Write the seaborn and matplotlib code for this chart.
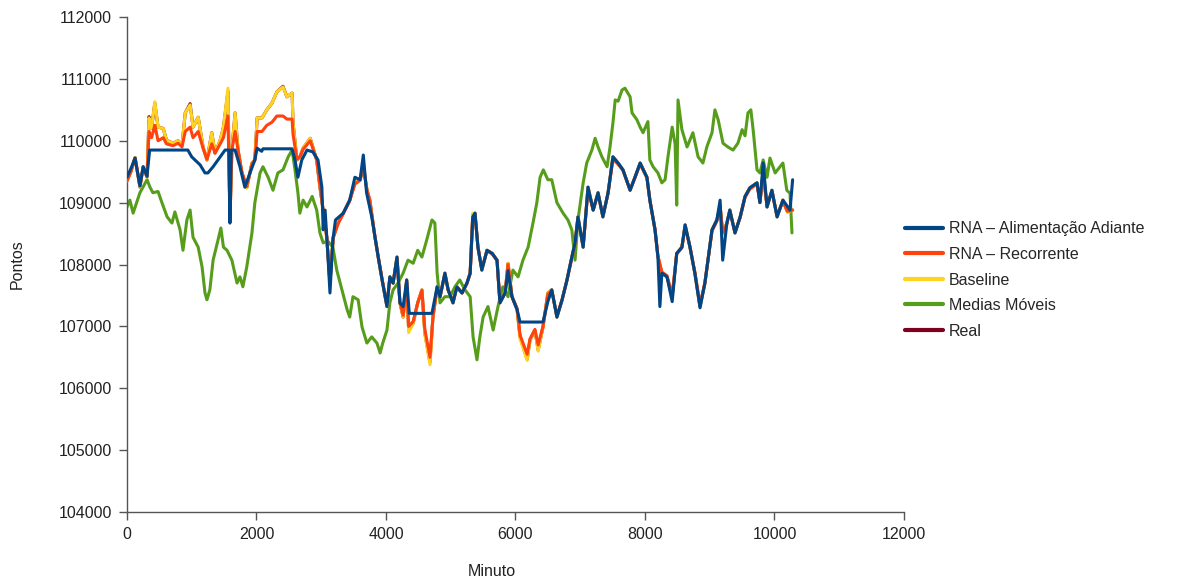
import matplotlib
matplotlib.use("Agg")
from matplotlib import pyplot as plt
import seaborn as sns
import pandas as pd

# minutos comuns para Real / Baseline / Recorrente
minutos = [0, 60, 125, 200, 250, 310, 340, 380, 430, 480, 560, 610, 710, 790, 850,
           900, 975, 1020, 1100, 1175, 1235, 1310, 1360, 1440, 1490, 1560, 1590, 1620,
           1670, 1715, 1775, 1850, 1930, 1975, 2010, 2085, 2160, 2240, 2315, 2410, 2470,
           2550, 2565, 2625, 2670, 2720, 2830, 2870, 2930, 2980, 3030, 3085, 3135, 3185,
           3260, 3340, 3440, 3520, 3600, 3650, 3705, 3750, 3830, 3880, 3940, 4015, 4060,
           4110, 4170, 4215, 4265, 4320, 4350, 4420, 4490, 4555, 4600, 4680, 4725, 4790,
           4835, 4910, 4960, 5035, 5095, 5175, 5250, 5300, 5340, 5375, 5420, 5480, 5560,
           5640, 5715, 5760, 5840, 5885, 5945, 6025, 6070, 6180, 6225, 6300, 6350, 6425,
           6500, 6560, 6640, 6720, 6795, 6870, 6920, 6965, 7045, 7120, 7200, 7275, 7350,
           7430, 7505, 7585, 7660, 7770, 7845, 7925, 8030, 8075, 8155, 8200, 8260, 8340,
           8420, 8490, 8570, 8620, 8695, 8770, 8850, 8925, 9035, 9110, 9160, 9200, 9265,
           9310, 9390, 9470, 9545, 9620, 9730, 9775, 9825, 9885, 9960, 10040, 10130,
           10200, 10280]

real = [109350, 109500, 109730, 109250, 109580, 109410, 110390, 110200, 110610, 110220,
        110200, 110010, 109960, 110000, 109930, 110450, 110600, 110220, 110380, 109900,
        109690, 110130, 109800, 110010, 110220, 110800, 108700, 109850, 110450, 109850,
        109480, 109240, 109640, 109690, 110370, 110370, 110500, 110610, 110790, 110880,
        110710, 110770, 110290, 109690, 109740, 109880, 110040, 109900, 109690, 109250,
        108880, 108440, 107700, 108440, 108670, 108830, 109040, 109320, 109370, 109600,
        109210, 109040, 108440, 108120, 107750, 107320, 107800, 107700, 108120, 107380,
        107150, 107750, 106940, 107050, 107380, 107590, 106890, 106420, 107150, 107640,
        107480, 107860, 107590, 107380, 107640, 107540, 107700, 107860, 108800, 108830,
        108280, 107910, 108230, 108180, 108070, 107380, 107540, 108020, 107480, 107270,
        106830, 106470, 106780, 106940, 106620, 106990, 107540, 107590, 107150, 107430,
        107750, 108120, 108350, 108770, 108280, 109250, 108880, 109160, 108770, 109160,
        109740, 109640, 109530, 109200, 109410, 109640, 109410, 109040, 108560, 108120,
        107860, 107800, 107480, 108180, 108280, 108640, 108280, 107860, 107320, 107700,
        108560, 108720, 108950, 108500, 108670, 108880, 108510, 108770, 109100, 109240,
        109320, 109000, 109500, 108930, 109200, 108770, 109040, 108850, 108880]

baseline = [109350, 109500, 109730, 109250, 109580, 109410, 110370, 110200, 110630, 110220,
            110200, 110010, 109960, 110000, 109930, 110450, 110580, 110220, 110380, 109900,
            109690, 110130, 109800, 110010, 110220, 110850, 108670, 109850, 110450, 109850,
            109480, 109240, 109640, 109690, 110370, 110370, 110500, 110610, 110790, 110870,
            110710, 110770, 110290, 109690, 109740, 109880, 110040, 109900, 109690, 109250,
            108880, 108440, 107700, 108440, 108670, 108830, 109040, 109320, 109370, 109600,
            109210, 109040, 108440, 108120, 107750, 107320, 107800, 107700, 108120, 107380,
            107150, 107750, 106900, 107050, 107380, 107590, 106870, 106380, 107150, 107640,
            107480, 107860, 107590, 107380, 107640, 107540, 107700, 107860, 108830, 108830,
            108280, 107910, 108230, 108180, 108070, 107380, 107540, 108020, 107480, 107270,
            106800, 106450, 106780, 106940, 106600, 106990, 107540, 107590, 107150, 107430,
            107750, 108120, 108350, 108770, 108280, 109250, 108880, 109160, 108770, 109160,
            109740, 109640, 109530, 109200, 109410, 109640, 109410, 109040, 108560, 108120,
            107860, 107800, 107480, 108180, 108280, 108640, 108280, 107860, 107320, 107700,
            108560, 108720, 108950, 108500, 108670, 108880, 108510, 108770, 109100, 109240,
            109320, 109000, 109500, 108930, 109200, 108770, 109040, 108850, 108880]

recorrente = [109350, 109500, 109720, 109270, 109570, 109420, 110150, 110050, 110250, 110000,
              110050, 109950, 109920, 109960, 109900, 110150, 110220, 110050, 110150, 109880,
              109700, 109950, 109800, 109950, 110050, 110400, 108720, 109850, 110150, 109850,
              109490, 109260, 109620, 109690, 110150, 110150, 110250, 110300, 110400, 110400,
              110350, 110350, 110100, 109700, 109740, 109860, 110000, 109880, 109690, 109270,
              108880, 108450, 107720, 108430, 108660, 108820, 109030, 109300, 109360, 109560,
              109210, 109040, 108450, 108130, 107770, 107350, 107780, 107700, 108100, 107400,
              107180, 107720, 107000, 107080, 107380, 107580, 106950, 106500, 107150, 107620,
              107480, 107840, 107590, 107400, 107630, 107540, 107690, 107850, 108750, 108800,
              108290, 107930, 108220, 108170, 108060, 107400, 107540, 108000, 107490, 107290,
              106860, 106550, 106800, 106950, 106700, 107000, 107520, 107580, 107170, 107430,
              107740, 108100, 108340, 108740, 108300, 109200, 108880, 109140, 108790, 109150,
              109700, 109620, 109520, 109210, 109400, 109620, 109400, 109050, 108570, 108140,
              107880, 107820, 107500, 108170, 108270, 108610, 108280, 107880, 107360, 107700,
              108540, 108700, 108930, 108520, 108660, 108860, 108520, 108760, 109080, 109220,
              109300, 109010, 109460, 108950, 109180, 108790, 109020, 108860, 108880]

minutos_ff = [0, 60, 125, 200, 250, 310, 350, 940, 1000, 1050, 1130, 1205, 1250, 1330,
              1440, 1515, 1575, 1590, 1610, 1670, 1745, 1820, 1900, 1975, 2010, 2080,
              2100, 2550, 2595, 2640, 2700, 2780, 2870, 2950, 3010, 3030, 3060, 3100, 3135,
              3180, 3220, 3340, 3440, 3520, 3600, 3650, 3700, 3780, 3830, 3880, 3940, 4015,
              4060, 4110, 4170, 4215, 4265, 4320, 4360, 4710, 4790, 4835, 4910, 4960, 5035,
              5095, 5175, 5250, 5300, 5340, 5375, 5420, 5480, 5560, 5640, 5715, 5760, 5840,
              5885, 5945, 6025, 6070, 6425, 6500, 6560, 6640, 6720, 6795, 6870, 6920, 6965,
              7045, 7120, 7200, 7275, 7350, 7430, 7505, 7585, 7660, 7770, 7845, 7925, 8030,
              8075, 8155, 8200, 8230, 8260, 8340, 8420, 8490, 8570, 8620, 8695, 8770, 8850,
              8925, 9035, 9110, 9160, 9200, 9265, 9310, 9390, 9470, 9545, 9620, 9730, 9775,
              9825, 9885, 9960, 10040, 10130, 10240, 10280]

alimentacao = [109410, 109550, 109720, 109270, 109580, 109430, 109850, 109850, 109740, 109690,
               109610, 109480, 109480, 109580, 109740, 109850, 109850, 108670, 109850, 109850,
               109580, 109250, 109480, 109690, 109880, 109830, 109870, 109870, 109690, 109410,
               109690, 109850, 109820, 109690, 109250, 108560, 108880, 108200, 107540, 108400,
               108720, 108830, 109040, 109410, 109370, 109770, 109160, 108770, 108440, 108120,
               107750, 107320, 107800, 107700, 108120, 107380, 107320, 107750, 107210, 107210,
               107640, 107480, 107860, 107590, 107380, 107640, 107540, 107700, 107860, 108770,
               108830, 108280, 107910, 108230, 108180, 108070, 107380, 107540, 107900, 107480,
               107270, 107070, 107070, 107400, 107590, 107150, 107430, 107750, 108120, 108350,
               108770, 108280, 109250, 108880, 109160, 108770, 109160, 109740, 109640, 109530,
               109200, 109410, 109640, 109410, 109040, 108560, 108120, 107320, 107860, 107800,
               107400, 108180, 108280, 108640, 108280, 107860, 107300, 107700, 108560, 108720,
               109040, 108070, 108670, 108880, 108510, 108770, 109100, 109240, 109320, 109000,
               109640, 108930, 109200, 108770, 109040, 108880, 109370]

minutos_mm = [0, 45, 95, 200, 310, 355, 400, 480, 540, 620, 695, 740, 820, 865, 925, 975,
              1020, 1100, 1160, 1205, 1235, 1280, 1330, 1405, 1450, 1490, 1545, 1620, 1700,
              1745, 1790, 1850, 1930, 1975, 2055, 2100, 2180, 2255, 2330, 2410, 2490, 2550,
              2595, 2640, 2670, 2720, 2780, 2860, 2930, 2980, 3030, 3100, 3180, 3240, 3320,
              3400, 3440, 3490, 3570, 3630, 3705, 3780, 3860, 3910, 3950, 4015, 4060, 4110,
              4185, 4265, 4340, 4420, 4490, 4555, 4630, 4710, 4755, 4790, 4835, 4910, 4990,
              5065, 5140, 5220, 5300, 5345, 5405, 5450, 5500, 5575, 5655, 5730, 5805, 5885,
              5960, 6040, 6115, 6195, 6270, 6330, 6380, 6430, 6500, 6560, 6640, 6735, 6810,
              6870, 6920, 6965, 7045, 7100, 7180, 7230, 7275, 7335, 7415, 7460, 7505, 7540,
              7585, 7645, 7690, 7770, 7800, 7875, 7925, 7970, 8045, 8075, 8125, 8200, 8260,
              8310, 8355, 8420, 8465, 8490, 8510, 8570, 8650, 8740, 8820, 8895, 8955, 9035,
              9080, 9130, 9205, 9280, 9360, 9435, 9500, 9545, 9590, 9635, 9670, 9730, 9775,
              9825, 9885, 9930, 10010, 10085, 10130, 10190, 10240, 10270]

medias_moveis = [108930, 109040, 108830, 109160, 109370, 109250, 109160, 109180, 109000,
                 108770, 108670, 108850, 108560, 108230, 108720, 108880, 108440, 108280,
                 107960, 107540, 107430, 107590, 108070, 108390, 108590, 108280, 108230,
                 108070, 107700, 107800, 107640, 107960, 108510, 109000, 109480, 109580,
                 109410, 109200, 109480, 109530, 109740, 109850, 109530, 109160, 108830,
                 109040, 108930, 109100, 108880, 108510, 108350, 108380, 108280, 107910,
                 107590, 107270, 107150, 107480, 107430, 106990, 106730, 106830, 106730,
                 106570, 106730, 106940, 107380, 107590, 107700, 107860, 108070, 108020,
                 108230, 108120, 108400, 108720, 108670, 107860, 107380, 107480, 107480,
                 107640, 107750, 107590, 107480, 106830, 106460, 106830, 107150, 107320,
                 106940, 107320, 107640, 107480, 107910, 107800, 108070, 108280, 108670,
                 109000, 109410, 109530, 109370, 109370, 109000, 108830, 108720, 108560,
                 108070, 108720, 109320, 109640, 109850, 110040, 109900, 109740, 109580,
                 109900, 110290, 110660, 110640, 110820, 110850, 110710, 110450, 110340,
                 110220, 110130, 110310, 109690, 109580, 109480, 109320, 109370, 109740,
                 110220, 109950, 108960, 110660, 110180, 109900, 110130, 109740, 109640,
                 109900, 110130, 110500, 110340, 109960, 109900, 109850, 109960, 110180,
                 110080, 110450, 110500, 110180, 109530, 109480, 109690, 109410, 109720,
                 109480, 109580, 109640, 109200, 109150, 108510]

nomes = ["RNA – Alimentação Adiante", "RNA – Recorrente", "Baseline", "Medias Móveis", "Real"]
cores = ["#004586", "#ff420e", "#ffd320", "#579d1c", "#7e0021"]

sns.set_style("white")
plt.rcParams['font.family'] = ['Liberation Sans', 'DejaVu Sans']

fig = plt.figure(figsize=(11.8, 5.81), dpi=100)
ax = fig.add_axes([0.1076, 0.1188, 0.6585, 0.8519])

# desenha do fundo para a frente: Real, Medias, Baseline, Recorrente, Alimentacao
series = [
    (minutos_ff, alimentacao, 5),
    (minutos, recorrente, 4),
    (minutos, baseline, 3),
    (minutos_mm, medias_moveis, 2),
    (minutos, real, 1),
]
handles = []
for (xs, ys, z), nome, cor in zip(series, nomes, cores):
    df = pd.DataFrame({"Minuto": xs, "Pontos": ys})
    sns.lineplot(data=df, x="Minuto", y="Pontos", ax=ax, color=cor, linewidth=2.2,
                 zorder=z, estimator=None, sort=False)
    handles.append(plt.Line2D([], [], color=cor, linewidth=3))

ax.set_xlim(0, 12000)
ax.set_ylim(104000, 112000)
ax.set_xticks(range(0, 12001, 2000))
ax.set_yticks(range(104000, 112001, 1000))
ax.tick_params(axis="both", direction="out", length=6, width=1, color="#555555",
               labelsize=11.5, labelcolor="#222222", pad=5, bottom=True, left=True)
for lado in ["top", "right"]:
    ax.spines[lado].set_visible(False)
for lado in ["left", "bottom"]:
    ax.spines[lado].set_color("#555555")
    ax.spines[lado].set_linewidth(1)

ax.set_xlabel("Minuto", fontsize=11.5, color="#222222")
ax.set_ylabel("Pontos", fontsize=11.5, color="#222222")
ax.xaxis.set_label_coords(0.47, -0.105)
ax.yaxis.set_label_coords(-0.132, 0.5)

fig.legend(handles, nomes, loc="center left", bbox_to_anchor=(0.767, 0.518),
           frameon=False, fontsize=11.5, handlelength=2.4, handletextpad=0.35,
           labelspacing=0.66, borderpad=0, borderaxespad=0)

fig.savefig("out.png", dpi=100)
